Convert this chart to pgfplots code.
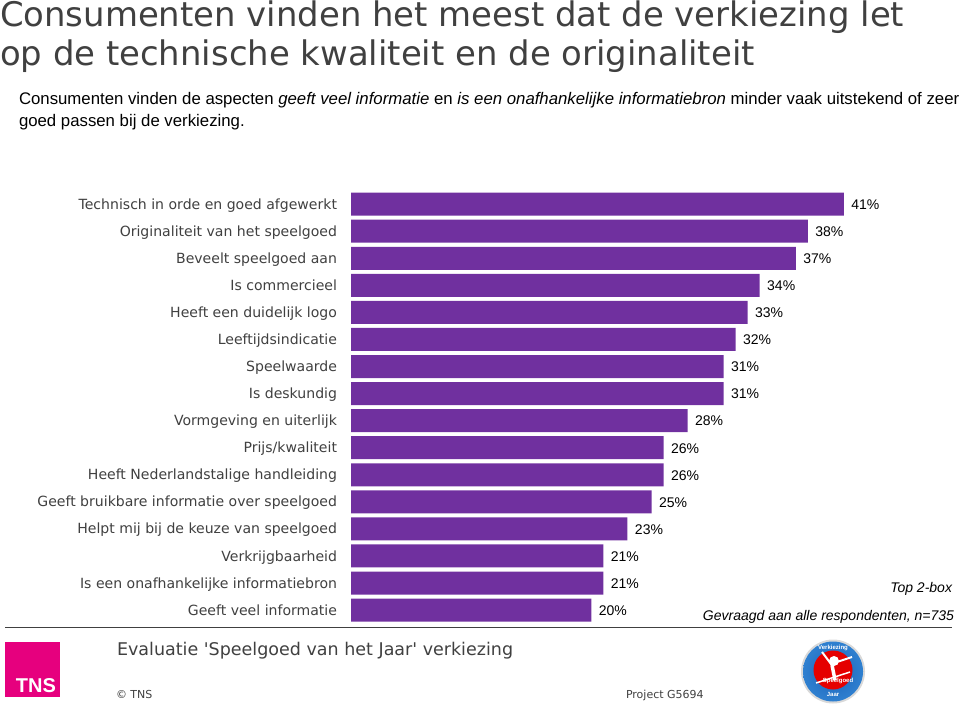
\documentclass[border=0pt]{standalone}
\usepackage{pgfplots}
\usepackage{fontspec}
\pgfplotsset{compat=1.18}
\setmainfont{Liberation Sans}
\newfontfamily\dvs{DejaVu Sans}
\definecolor{bar}{HTML}{70309F}
\definecolor{lab}{HTML}{404040}
\definecolor{tns}{HTML}{E6007E}
\definecolor{medo}{HTML}{2F80D0}
\definecolor{medi}{HTML}{1B62B8}
\newcommand{\fs}[1]{\fontsize{#1}{#1}\selectfont}
\begin{document}
\begin{tikzpicture}[x=1pt,y=1pt,inner sep=0pt,outer sep=0pt]
\path[use as bounding box] (0,0) rectangle (960,-706);
\coordinate (A) at (351,-623.6);
\begin{axis}[
  at={(A)},anchor=south west,
  scale only axis,width=601pt,height=433pt,
  xmin=0,xmax=50,ymin=-0.5,ymax=15.5,
  axis lines=none,
  xbar,bar width=23pt,
  clip=false,
  /pgf/number format/assume math mode=true,
  nodes near coords={\pgfmathprintnumber{\pgfplotspointmeta}\%},
  every node near coord/.append style={font=\fs{14}\color{black},anchor=west,xshift=7.5pt,yshift=-0.5pt},
  point meta=x,
]
\addplot[fill=bar,draw=none] coordinates {
(41,15)(38,14)(37,13)(34,12)(33,11)(32,10)(31,9)(31,8)(28,7)(26,6)(26,5)(25,4)(23,3)(21,2)(21,1)(20,0)};
\end{axis}
\begin{scope}[every node/.style={anchor=base east,font=\dvs\fs{14.05}\color{lab}}]
\node at (337,-209) {Technisch in orde en goed afgewerkt};
\node at (337,-236) {Originaliteit van het speelgoed};
\node at (337,-263) {Beveelt speelgoed aan};
\node at (337,-290) {Is commercieel};
\node at (337,-317) {Heeft een duidelijk logo};
\node at (337,-344.5) {Leeftijdsindicatie};
\node at (337,-371.5) {Speelwaarde};
\node at (337,-398.5) {Is deskundig};
\node at (337,-425.5) {Vormgeving en uiterlijk};
\node at (337,-452.5) {Prijs/kwaliteit};
\node at (337,-479.5) {Heeft Nederlandstalige handleiding};
\node at (337,-506.5) {Geeft bruikbare informatie over speelgoed};
\node at (337,-533.5) {Helpt mij bij de keuze van speelgoed};
\node at (337,-561) {Verkrijgbaarheid};
\node at (337,-588) {Is een onafhankelijke informatiebron};
\node at (337,-615) {Geeft veel informatie};
\end{scope}
\node[anchor=base west,font=\dvs\fs{33.9}\color{lab}] at (0,-27) {Consumenten vinden het meest dat de verkiezing let};
\node[anchor=base west,font=\dvs\fs{33.9}\color{lab}] at (0,-66) {op de technische kwaliteit en de originaliteit};
\node[anchor=base west,font=\fs{16.78}\color{black}] at (19,-105) {Consumenten vinden de aspecten \textit{geeft veel informatie} en \textit{is een onafhankelijke informatiebron} minder vaak uitstekend of zeer};
\node[anchor=base west,font=\fs{16.78}\color{black}] at (19,-126) {goed passen bij de verkiezing.};
\node[anchor=base east,font=\itshape\fs{14}] at (952,-592) {Top 2-box};
\node[anchor=base east,font=\itshape\fs{14}] at (954,-620) {Gevraagd aan alle respondenten, n=735};
\draw[line width=1.2pt,lab] (5,-627.5) -- (952,-627.5);
\fill[tns] (4.5,-641.5) rectangle (60,-697);
\node[anchor=base east,font=\bfseries\fs{20}\color{white}] at (56,-692) {TNS};
\node[anchor=base west,font=\dvs\fs{17.5}\color{lab}] at (117,-655) {Evaluatie 'Speelgoed van het Jaar' verkiezing};
\node[anchor=base west,font=\dvs\fs{11}\color{lab}] at (116,-698) {© TNS};
\node[anchor=base west,font=\dvs\fs{11}\color{lab}] at (626,-698) {Project G5694};
\fill[gray!30] (833,-671.5) circle (32);
\shade[inner color=medi,outer color=medo] (833,-671.5) circle (30);
\fill[red!90!black] (833,-670) circle (19.5);
\fill[white] (834,-661) circle (5);
\draw[white,line width=2pt] (822,-652) -- (831,-664) -- (852,-657);
\draw[white,line width=3.5pt] (832,-665) -- (835,-680);
\draw[white,line width=1.5pt] (816,-683) -- (850,-672);
\node[font=\bfseries\fs{6}\color{white}] at (838,-681) {Speelgoed};
\node[font=\bfseries\fs{6}\color{white}] at (833,-648) {Verkiezing};
\node[font=\bfseries\fs{6}\color{white}] at (833,-694) {Jaar};
\end{tikzpicture}
\end{document}
